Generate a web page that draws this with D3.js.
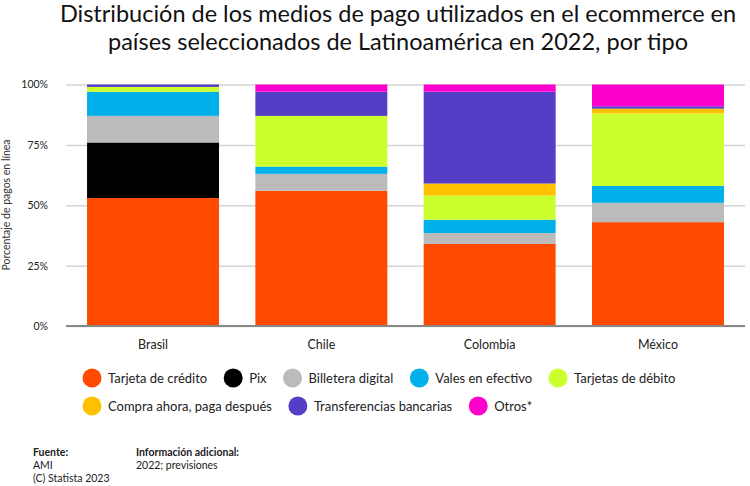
<!DOCTYPE html>
<html><head><meta charset="utf-8">
<script src="https://cdn.jsdelivr.net/npm/d3@7"></script>
<style>
body{margin:0;background:#fff;}
svg{font-family:Lato,"Open Sans",sans-serif;}
</style></head>
<body>
<svg id="c" width="750" height="486"></svg>
<script>
const categories = ["Brasil","Chile","Colombia","México"];
const seriesNames = ["Tarjeta de crédito","Pix","Billetera digital","Vales en efectivo","Tarjetas de débito","Compra ahora, paga después","Transferencias bancarias","Otros*"];
const tarjetaCredito = [53, 56, 34, 43];
const pix = [23, 0, 0, 0];
const billetera = [11, 7, 4.5, 8];
const vales = [10, 3, 5.5, 7];
const debito = [2, 21, 10, 30];
const compraAhora = [0, 0, 5, 2];
const transferencias = [1, 10, 38, 1];
const otros = [0, 3, 3, 9];
const yTicks = [0, 25, 50, 75, 100];
const colors = ["#ff4a00","#000000","#bbbbbb","#00b0ea","#ccff2e","#ffc000","#553dc5","#ff00cc"];

const seriesValues = [tarjetaCredito, pix, billetera, vales, debito, compraAhora, transferencias, otros];
const rows = categories.map((c,i)=>{const r={cat:c}; seriesNames.forEach((s,j)=>r[s]=seriesValues[j][i]); return r;});
const stack = d3.stack().keys(seriesNames)(rows);

const svg = d3.select("#c");
const x = d3.scaleBand().domain(categories).range([66,745]).paddingInner(0.216).paddingOuter(0.125);
const y = d3.scaleLinear().domain([0,100]).range([326,84.5]);

// title
const title = svg.append("text").attr("text-anchor","middle").attr("fill","#111").style("font-size","23.5px");
title.append("tspan").attr("x",398).attr("y",22).text("Distribución de los medios de pago utilizados en el ecommerce en");
title.append("tspan").attr("x",398).attr("y",50).text("países seleccionados de Latinoamérica en 2022, por tipo");

// grid
const yAxis = d3.axisLeft(y).tickValues(yTicks).tickFormat(d=>d+"%").tickSize(-(745-66)).tickPadding(18);
const g = svg.append("g").attr("transform","translate(66,0)").call(yAxis);
g.select(".domain").remove();
g.selectAll(".tick line").attr("stroke","#d4d4d4").attr("stroke-width",1.5);
g.selectAll(".tick text").attr("fill","#222").style("font-size","10.5px").attr("font-family","Lato,sans-serif");

// bars
svg.append("g").selectAll("g").data(stack).join("g").attr("fill",(d,i)=>colors[i])
  .selectAll("rect").data(d=>d).join("rect")
  .attr("x",d=>x(d.data.cat)).attr("width",x.bandwidth())
  .attr("y",d=>y(d[1])).attr("height",d=>Math.max(0,y(d[0])-y(d[1])));

// baseline
svg.append("line").attr("x1",66).attr("x2",745).attr("y1",y(0)).attr("y2",y(0)).attr("stroke","#888").attr("stroke-width",2);

// x axis labels
const xAxis = d3.axisBottom(x).tickSize(0).tickPadding(14);
const xg = svg.append("g").attr("transform",`translate(0,${y(0)})`).call(xAxis);
xg.select(".domain").remove();
xg.selectAll("text").attr("fill","#222").style("font-size","12.5px").attr("font-family","Lato,sans-serif");

// y title
svg.append("text").attr("transform","translate(10,205) rotate(-90)").attr("text-anchor","middle")
  .attr("fill","#333").style("font-size","10.5px").text("Porcentaje de pagos en línea");

// legend
const legendRows = [[0,1,2,3,4],[5,6,7]];
const legendY = [378, 406];
legendRows.forEach((row,ri)=>{
  let cx = 92;
  row.forEach(i=>{
    const lg = svg.append("g");
    lg.append("circle").attr("cx",cx).attr("cy",legendY[ri]).attr("r",9.5).attr("fill",colors[i]);
    const t = lg.append("text").attr("x",cx+16).attr("y",legendY[ri]).attr("dy","0.35em")
      .attr("fill","#222").style("font-size","13px").text(seriesNames[i]);
    const w = t.node().getComputedTextLength();
    cx = cx + 16 + w + 26;
  });
});

// footer
const f1 = svg.append("g").style("font-size","10.5px").attr("fill","#222");
f1.append("text").attr("x",33).attr("y",456).style("font-weight","bold").text("Fuente:");
f1.append("text").attr("x",33).attr("y",469).text("AMI");
f1.append("text").attr("x",33).attr("y",482).text("(C) Statista 2023");
f1.append("text").attr("x",136).attr("y",456).style("font-weight","bold").text("Información adicional:");
f1.append("text").attr("x",136).attr("y",469).text("2022; previsiones");
</script>
</body></html>
